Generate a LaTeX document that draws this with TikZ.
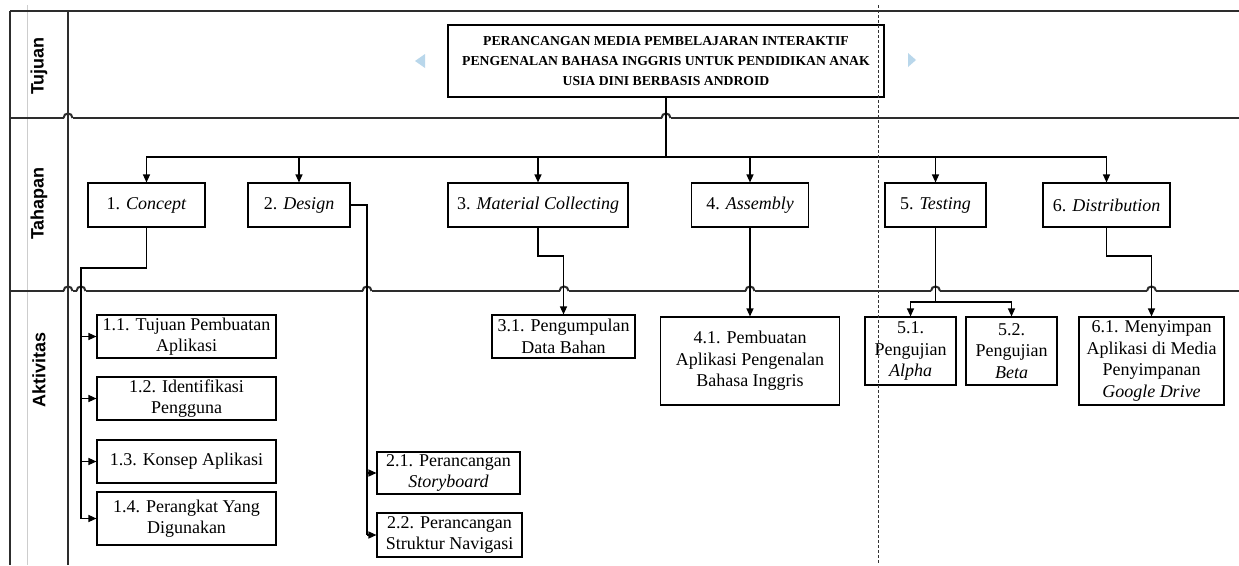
\documentclass[tikz,border=0pt]{standalone}
\usepackage{fontspec}
\setmainfont{Liberation Serif}
\newfontfamily\lanefont{Liberation Sans}
\usetikzlibrary{arrows.meta}
\definecolor{lanecol}{RGB}{45,45,45}
\definecolor{tricol}{RGB}{185,215,235}
\definecolor{faintcol}{RGB}{205,205,205}
\newcommand\lanehop[2]{%
  \fill[white] (#1-4.5,#2-2) rectangle (#1+4.5,#2+2);
  \draw[lane] (#1-4.5,#2) .. controls (#1-4.5,#2-6) and (#1+4.5,#2-6) .. (#1+4.5,#2);}
\begin{document}
\begin{tikzpicture}[x=1pt,y=-1pt,
  box/.style={draw=black, line width=1.1pt, inner sep=0pt, align=center,
    font=\fontsize{18}{21.5}\selectfont},
  lane/.style={draw=lanecol, line width=2pt},
  conn/.style={draw=black, line width=1.2pt},
  arr/.style={conn, -{Triangle[length=8pt,width=7pt]}},
  lanelabel/.style={rotate=90, inner sep=0pt,
    font=\lanefont\bfseries\fontsize{18}{20}\selectfont}]
\useasboundingbox[fill=white] (0,0) rectangle (1239,565);

% frame
\draw[faintcol, line width=1pt] (27,5) -- (27,565);
\draw[lane] (10,11) -- (1239,11);
\draw[lane] (10,118) -- (1239,118);
\draw[lane] (10,291) -- (1239,291);
\lanehop{68}{118}
\lanehop{666}{118}
\lanehop{68}{291}
\lanehop{81}{291}
\lanehop{367}{291}
\lanehop{564}{291}
\lanehop{750}{291}
\lanehop{935.5}{291}
\lanehop{1151.5}{291}
\draw[lane] (10,11) -- (10,565);
\draw[lane] (68,11) -- (68,565);

% lane labels
\node[lanelabel] (lTujuan) at (39,66) {Tujuan};
\node[lanelabel] (lTahapan) at (39,203.5) {Tahapan};
\node[lanelabel] (lAktivitas) at (39,370) {Aktivitas};

% decorative triangles
\fill[tricol] (415,61) -- (425,54) -- (425,68) -- cycle;
\fill[tricol] (916,60) -- (908,53) -- (908,67) -- cycle;

% title
\node[box, minimum width=436, minimum height=72,
  font=\bfseries\fontsize{13.7}{20}\selectfont] (title) at (666,61)
  {PERANCANGAN MEDIA PEMBELAJARAN INTERAKTIF\\PENGENALAN BAHASA INGGRIS UNTUK PENDIDIKAN ANAK\\USIA DINI BERBASIS ANDROID};

% stages
\node[box, minimum width=117, minimum height=44] (c1) at (146.5,205) {1. \textit{Concept}};
\node[box, minimum width=102, minimum height=44] (c2) at (299,205) {2. \textit{Design}};
\node[box, minimum width=180, minimum height=44] (c3) at (538,205) {3. \textit{Material Collecting}};
\node[box, minimum width=117, minimum height=44] (c4) at (750,205) {4. \textit{Assembly}};
\node[box, minimum width=101, minimum height=44] (c5) at (935.5,205) {5. \textit{Testing}};
\node[box, minimum width=127, minimum height=44] (c6) at (1106.5,205) {6. \textit{Distribution}};

% activities
\node[box, minimum width=179, minimum height=43] (a11) at (186.5,336.5) {1.1. Tujuan Pembuatan\\Aplikasi};
\node[box, minimum width=179, minimum height=43] (a12) at (186.5,398.5) {1.2. Identifikasi\\Pengguna};
\node[box, minimum width=179, minimum height=43] (a13) at (186.5,461.5) {1.3. Konsep Aplikasi};
\node[box, minimum width=179, minimum height=53] (a14) at (186.5,518.5) {1.4. Perangkat Yang\\Digunakan};
\node[box, minimum width=143, minimum height=42] (a21) at (448.5,473) {2.1. Perancangan\\\textit{Storyboard}};
\node[box, minimum width=145, minimum height=44] (a22) at (449.5,535) {2.2. Perancangan\\Struktur Navigasi};
\node[box, minimum width=143, minimum height=43] (a31) at (563.5,336.5) {3.1. Pengumpulan\\Data Bahan};
\node[box, minimum width=179, minimum height=88] (a41) at (750,361) {4.1. Pembuatan\\Aplikasi Pengenalan\\Bahasa Inggris};
\node[box, minimum width=91, minimum height=68] (a51) at (910.5,351) {5.1.\\Pengujian\\\textit{Alpha}};
\node[box, minimum width=91, minimum height=68] (a52) at (1011.5,351) {5.2.\\Pengujian\\\textit{Beta}};
\node[box, minimum width=145, minimum height=88] (a61) at (1151.5,361) {6.1. Menyimpan\\Aplikasi di Media\\Penyimpanan\\\textit{Google Drive}};

% title to stages
\coordinate (bus) at (666,157);
\draw[conn] (title.south) -- (bus);
\foreach \n in {c1,c2,c3,c4,c5,c6} \draw[arr] (bus) -| (\n.north);

% concept
\coordinate (j1) at (81,268);
\draw[conn] (c1.south) |- (j1) -- (j1 |- a14.west);
\foreach \n in {a11,a12,a13,a14} \draw[arr] (j1 |- \n.west) -- (\n.west);

% design
\coordinate (j2) at (367,205);
\draw[conn] (c2.east) -- (j2) -- (j2 |- a22.west);
\foreach \n in {a21,a22} \draw[arr] (j2 |- \n.west) -- (\n.west);

% material collecting
\coordinate (j3) at (538,256);
\draw[arr] (c3.south) -- (j3) -| (a31.north);

% assembly
\draw[arr] (c4.south) -- (a41.north);

% testing
\coordinate (j5) at (935.5,302);
\draw[conn] (c5.south) -- (j5);
\foreach \n in {a51,a52} \draw[arr] (j5) -| (\n.north);

% distribution
\coordinate (j6) at (1106.5,256);
\draw[arr] (c6.south) -- (j6) -| (a61.north);

% dashed divider
\draw[black!80, line width=0.9pt, dash pattern=on 3pt off 2pt] (878,5) -- (878,563);
\end{tikzpicture}
\end{document}
